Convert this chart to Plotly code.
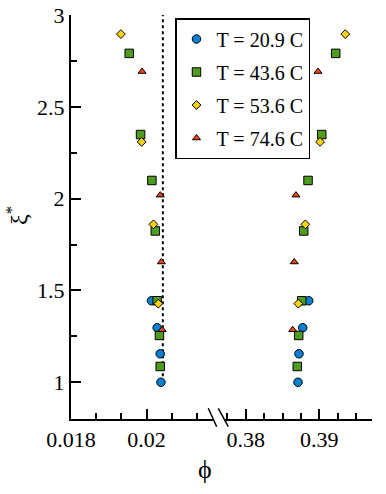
import plotly.graph_objects as go

# ---------------- data ----------------
labels = ["T = 20.9 C", "T = 43.6 C", "T = 53.6 C", "T = 74.6 C"]

xi_209 = [1.0, 1.155, 1.297, 1.444]
phi_lo_209 = [0.02038, 0.02036, 0.02028, 0.02013]
phi_hi_209 = [0.38711, 0.38724, 0.38775, 0.38856]

xi_436 = [1.086, 1.255, 1.444, 1.824, 2.099, 2.349, 2.791]
phi_lo_436 = [0.02036, 0.02034, 0.02028, 0.02023, 0.02014, 0.01984, 0.01954]
phi_hi_436 = [0.38701, 0.38720, 0.38761, 0.38788, 0.38847, 0.39033, 0.39223]

xi_536 = [1.428, 1.860, 2.309, 2.896]
phi_lo_536 = [0.02031, 0.02018, 0.01987, 0.01932]
phi_hi_536 = [0.38715, 0.38810, 0.39010, 0.39353]

xi_746 = [1.286, 1.655, 2.019, 2.692]
phi_lo_746 = [0.02041, 0.02039, 0.02036, 0.01988]
phi_hi_746 = [0.38639, 0.38660, 0.38683, 0.38982]

ref_phi = 0.02043
ref_xi = [1.0, 3.0]

x_ticks_lo = [0.018, 0.02]
x_ticks_hi = [0.38, 0.39]
y_ticks = [1, 1.5, 2, 2.5, 3]

# ---------------- styles ----------------
colors = ["#0a80d2", "#4f9c1e", "#f6d210", "#f04412"]
symbols = ["circle", "square", "diamond", "triangle-up"]
sizes = [8.5, 8.5, 6.8, 7]
FONT = "Liberation Serif, DejaVu Serif, serif"

series = [
    (xi_209, phi_lo_209, phi_hi_209),
    (xi_436, phi_lo_436, phi_hi_436),
    (xi_536, phi_lo_536, phi_hi_536),
    (xi_746, phi_lo_746, phi_hi_746),
]

fig = go.Figure()

# dotted reference line
fig.add_trace(go.Scatter(
    x=[ref_phi] * len(ref_xi), y=ref_xi, mode="lines",
    line=dict(color="black", width=2, dash="dot"),
    showlegend=False, hoverinfo="skip", xaxis="x", yaxis="y"))

for i, (xi, lo, hi) in enumerate(series):
    mk = dict(symbol=symbols[i], size=sizes[i], color=colors[i],
              line=dict(color="black", width=1))
    fig.add_trace(go.Scatter(x=lo, y=xi, mode="markers", marker=mk,
                             name=labels[i], legendgroup=labels[i],
                             showlegend=True, xaxis="x", yaxis="y"))
    fig.add_trace(go.Scatter(x=hi, y=xi, mode="markers", marker=mk,
                             name=labels[i], legendgroup=labels[i],
                             showlegend=False, xaxis="x2", yaxis="y"))

# plot area in page pixels (page body margin is removed below)
FW, FH = 386, 494
L, R, T, B = 71, 372, 15, 419
W, H = R - L, B - T
def px(p):
    return (p - L) / W
def py(p):
    return (B - p) / H

lo_end = 213
hi_start = 224
lo_scale = 37800.0
hi_scale = 7360.0
lo_range = [0.018, 0.018 + (lo_end - L) / lo_scale]
hi_range = [0.38 - (245.7 - hi_start) / hi_scale, 0.39 + (R - 319.3) / hi_scale]

axis_common = dict(
    showline=True, linecolor="black", linewidth=2, mirror=False,
    ticks="inside", ticklen=10, tickwidth=1.5, tickcolor="black",
    showgrid=False, zeroline=False, automargin=False,
    ticklabeloverflow="allow",
    tickfont=dict(family=FONT, size=22, color="black"),
)

fig.update_layout(
    template="none",
    width=FW, height=FH, autosize=False,
    margin=dict(l=L, r=FW - R, t=T, b=FH - B, pad=0),
    paper_bgcolor="white", plot_bgcolor="white",
    xaxis=dict(domain=[0, px(lo_end)], range=lo_range, anchor="y",
               tickvals=x_ticks_lo, ticktext=["0.018", "0.02"],
               minor=dict(ticks="inside", ticklen=6, tickwidth=1.5,
                          tickcolor="black", tick0=0.018, dtick=0.002 / 3),
               **axis_common),
    xaxis2=dict(domain=[px(hi_start), 1], range=hi_range, anchor="y",
                tickvals=x_ticks_hi, ticktext=["0.38", "0.39"],
                minor=dict(ticks="inside", ticklen=6, tickwidth=1.5,
                           tickcolor="black", tick0=0.38, dtick=0.0025),
                **axis_common),
    yaxis=dict(domain=[0, 1], range=[0.8, 3.0], anchor="x",
               tickvals=y_ticks, ticktext=["1", "1.5", "2", "2.5", "3"],
               minor=dict(ticks="inside", ticklen=6, tickwidth=1.5,
                          tickcolor="black", tick0=0.75, dtick=0.25),
               **axis_common),
    legend=dict(
        x=px(175), y=py(18), xanchor="left", yanchor="top",
        bgcolor="white", bordercolor="black", borderwidth=1.5,
        font=dict(family=FONT, size=20, color="black"),
        tracegroupgap=4, itemwidth=30,
    ),
    showlegend=True,
)

# axis break marks
for (x0, x1) in [(208.3, 216.7), (218.3, 228.3)]:
    fig.add_shape(type="line", xref="paper", yref="paper",
                  x0=px(x0), y0=py(408.3), x1=px(x1), y1=py(426.7),
                  line=dict(color="black", width=1.5))

# axis titles
fig.add_annotation(text="ξ<sup>*</sup>", xref="paper", yref="paper",
                   x=px(17), y=py(216), showarrow=False, textangle=-90,
                   font=dict(family=FONT, size=24, color="black"),
                   xanchor="center", yanchor="middle")
fig.add_annotation(text="ϕ", xref="paper", yref="paper",
                   x=px(205), y=py(469), showarrow=False,
                   font=dict(family=FONT, size=26, color="black"),
                   xanchor="center", yanchor="middle")

fig.write_html("out.html",
               config={"displayModeBar": False},
               post_script="document.body.style.margin='0';")
